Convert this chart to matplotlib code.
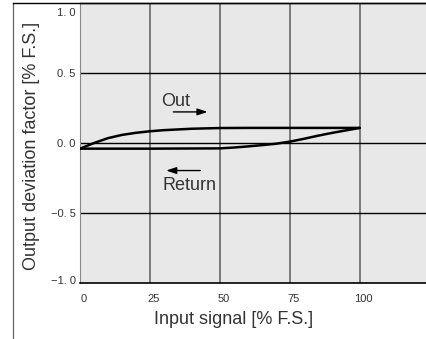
import matplotlib
matplotlib.use("Agg")
from matplotlib import pyplot as plt
from matplotlib.lines import Line2D
from matplotlib.transforms import ScaledTranslation

plt.rcParams["font.family"] = ["Liberation Sans", "DejaVu Sans"]

# hysteresis curves, input signal [% F.S.] vs deviation [% F.S.]
out_x = [0, 5, 10, 15, 20, 25, 30, 40, 50, 60, 100]
out_y = [-0.04, 0.0, 0.035, 0.058, 0.073, 0.084, 0.092, 0.102, 0.107, 0.108, 0.108]
ret_x = [100, 95, 90, 85, 80, 75, 70, 65, 60, 55, 50, 25, 0]
ret_y = [0.108, 0.09, 0.072, 0.052, 0.03, 0.01, -0.005, -0.015, -0.024, -0.032, -0.038, -0.04, -0.04]

x_ticks = [0, 25, 50, 75, 100]
y_ticks = [-1.0, -0.5, 0.0, 0.5, 1.0]
y_tick_labels = ["\u22121. 0", "\u22120. 5", "0. 0", "0. 5", "1. 0"]

W, H = 426, 339
fig = plt.figure(figsize=(W / 100, H / 100), dpi=100)
ax = fig.add_axes([80 / W, (H - 283.3) / H, (W - 80) / W, 280.5 / H])
ax.set_facecolor("#e8e8e8")
ax.set_xlim(0, 123.7)
ax.set_ylim(-1, 1)

for xv in x_ticks[1:]:
    ax.axvline(xv, color="#7a7a7a", lw=1.4, zorder=1)
for yv in [-0.5, 0.0, 0.5]:
    ax.axhline(yv, color="black", lw=1.0, zorder=1)

ax.plot(out_x, out_y, color="black", lw=1.8, zorder=3, solid_capstyle="round")
ax.plot(ret_x, ret_y, color="black", lw=1.8, zorder=3, solid_capstyle="round")

ax.text(28.9, 0.297, "Out", fontsize=13, color="#333333", ha="left", va="center")
ax.annotate("", xy=(46.6, 0.222), xytext=(32.4, 0.222),
            arrowprops=dict(arrowstyle="-|>,head_length=0.6,head_width=0.2", color="black", lw=1.0))
ax.text(29.5, -0.30, "Return", fontsize=13, color="#333333", ha="left", va="center")
ax.annotate("", xy=(29.8, -0.196), xytext=(44, -0.196),
            arrowprops=dict(arrowstyle="-|>,head_length=0.6,head_width=0.2", color="black", lw=1.0))

ax.spines["right"].set_visible(False)
ax.spines["top"].set_color("black")
ax.spines["top"].set_linewidth(1.0)
ax.spines["bottom"].set_color("black")
ax.spines["bottom"].set_linewidth(1.2)
ax.spines["left"].set_color("#888888")
ax.spines["left"].set_linewidth(0.8)

ax.set_xticks(x_ticks)
ax.set_xticklabels([str(v) for v in x_ticks])
ax.set_yticks(y_ticks)
ax.set_yticklabels(y_tick_labels)
ax.tick_params(axis="both", length=0, labelsize=8, labelcolor="#333333")
ax.tick_params(axis="x", pad=8)
ax.tick_params(axis="y", pad=3)

# nudge tick labels the way the printed chart places them
for lab in ax.get_xticklabels():
    lab.set_transform(lab.get_transform() + ScaledTranslation(4 / 100, 0, fig.dpi_scale_trans))
ylabs = ax.get_yticklabels()
ylabs[-1].set_transform(ylabs[-1].get_transform() + ScaledTranslation(0, -9 / 100, fig.dpi_scale_trans))
ylabs[0].set_transform(ylabs[0].get_transform() + ScaledTranslation(0, 3 / 100, fig.dpi_scale_trans))

fig.text(234 / W, 1 - 320 / H, "Input signal [% F.S.]", fontsize=13, color="#333333",
         ha="center", va="center")
fig.text(32 / W, 1 - 146 / H, "Output deviation factor [% F.S.]", fontsize=13, color="#333333",
         ha="center", va="center", rotation=90)

# outer frame lines
fig.add_artist(Line2D([12.5 / W, 12.5 / W], [0, 1 - 3 / H], color="#666666", lw=0.9))
fig.add_artist(Line2D([12.5 / W, 1], [1 - 3 / H, 1 - 3 / H], color="black", lw=1.0))

fig.savefig("out.png", dpi=100)
